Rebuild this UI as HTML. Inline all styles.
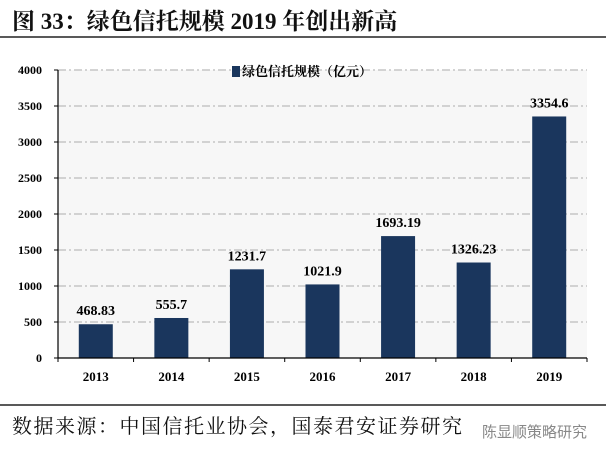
<!DOCTYPE html>
<html><head><meta charset="utf-8"><style>
body{margin:0;width:606px;height:458px;background:#fff;overflow:hidden;font-family:"Liberation Serif","Noto Serif CJK SC",serif}
#title{position:absolute;left:12px;top:3px;font-size:23px;font-weight:bold;color:#111}
#src{position:absolute;left:12px;top:410px;font-size:20px;letter-spacing:1.5px;color:#111}
#wm{position:absolute;left:482px;top:421px;font-size:15px;color:#888;font-family:"Liberation Sans","Noto Sans CJK SC",sans-serif}
</style></head><body>
<div id="title">图 33：绿色信托规模 2019 年创出新高</div>
<svg id="c" width="606" height="458" style="position:absolute;left:0;top:0"></svg>
<div id="src">数据来源：中国信托业协会，国泰君安证券研究</div>
<div id="wm">陈显顺策略研究</div>
<script>
const categories=["2013","2014","2015","2016","2017","2018","2019"];
const values=[468.83,555.7,1231.7,1021.9,1693.19,1326.23,3354.6];
const valueLabels=["468.83","555.7","1231.7","1021.9","1693.19","1326.23","3354.6"];
const yTicks=[0,500,1000,1500,2000,2500,3000,3500,4000];
const NS="http://www.w3.org/2000/svg";
const svg=document.getElementById('c');
const X0=58,X1=587,Y0=358,Y1=70,YMAX=4000;
const y=v=>Y0-(v/YMAX)*(Y0-Y1);
const bw=(X1-X0)/categories.length;
const xc=i=>X0+bw*(i+0.5);
function mk(t,a,txt){const e=document.createElementNS(NS,t);for(const k in a)e.setAttribute(k,a[k]);if(txt!=null)e.textContent=txt;svg.appendChild(e);return e;}
let e;
e=mk('line',{x1:0,y1:37,x2:606,y2:37,stroke:'#222','stroke-width':1.5});


e=mk('line',{x1:0,y1:405,x2:606,y2:405,stroke:'#222','stroke-width':1.5});


e=mk('rect',{x:X0,y:Y1,width:X1-X0,height:Y0-Y1,fill:'#f7f7f7'});


yTicks.forEach(t=>{
  if(t>0){e=mk('line',{x1:X0,y1:y(t),x2:X1,y2:y(t),stroke:'#bbb','stroke-width':1.2,'stroke-dasharray':'8,3,2,3'});
  
  }
  e=mk('line',{x1:X0-4,y1:y(t),x2:X0,y2:y(t),stroke:'#000'});
  
  
  e=mk('text',{x:42,y:y(t)+4,'text-anchor':'end','font-size':12,'font-weight':'bold'},String(t));
  
  
});
categories.forEach((c,i)=>{
  e=mk('rect',{x:xc(i)-17,y:y(values[i]),width:34,height:Y0-y(values[i]),fill:'#1a365d'});
  
  
  e=mk('text',{x:xc(i),y:y(values[i])-9,'text-anchor':'middle','font-size':14,'font-weight':'bold'},valueLabels[i]);
  
  
  e=mk('text',{x:xc(i),y:381,'text-anchor':'middle','font-size':13,'font-weight':'bold'},c);
  
  
});
for(let i=0;i<=categories.length;i++){
  e=mk('line',{x1:X0+bw*i,y1:Y0,x2:X0+bw*i,y2:Y0+4,stroke:'#000'});
  
  
}
e=mk('line',{x1:X0,y1:Y1,x2:X0,y2:Y0,stroke:'#000','stroke-width':1.2});


e=mk('line',{x1:X0,y1:Y0,x2:X1,y2:Y0,stroke:'#000','stroke-width':1.2});


e=mk('rect',{x:232,y:66,width:8,height:11,fill:'#1a365d'});


e=mk('text',{x:242,y:76,'font-size':13,'font-weight':'bold'},'绿色信托规模（亿元）');


</script>
</body></html>
